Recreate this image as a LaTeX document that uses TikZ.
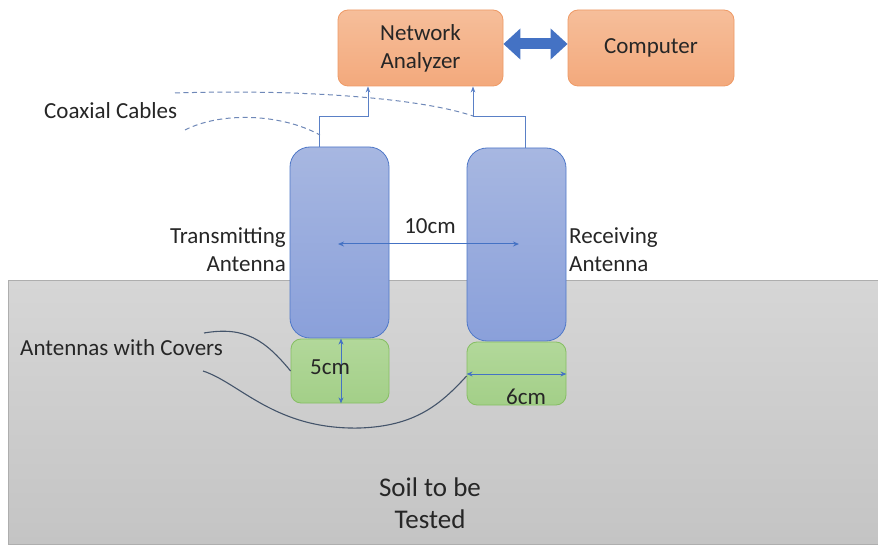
\documentclass[tikz,border=0pt]{standalone}
\usepackage{fontspec}
\setmainfont{Carlito}
\usetikzlibrary{arrows.meta}
\definecolor{txtc}{HTML}{262626}
\definecolor{ortop}{HTML}{F6BE9A}
\definecolor{orbot}{HTML}{F3A97C}
\definecolor{orline}{HTML}{EE9A66}
\definecolor{bltop}{HTML}{A7B7E1}
\definecolor{blbot}{HTML}{8AA0DA}
\definecolor{blline}{HTML}{4F78C8}
\definecolor{grtop}{HTML}{B2D89A}
\definecolor{grbot}{HTML}{A3CF88}
\definecolor{grline}{HTML}{86BE63}
\definecolor{arrc}{HTML}{4472C4}
\definecolor{cablec}{HTML}{5A80C6}
\definecolor{dashc}{HTML}{6F88B8}
\definecolor{leadc}{HTML}{44546A}
\definecolor{soiltop}{HTML}{D6D6D6}
\definecolor{soilbot}{HTML}{C4C4C4}
\definecolor{soilline}{HTML}{AEAEAE}
\begin{document}
\begin{tikzpicture}[x=1pt,y=-1pt,
  lbl/.style={font=\fontsize{23}{28}\selectfont, text=txtc, inner sep=0pt},
  orbox/.style={draw=orline, line width=0.8pt, rounded corners=10pt, top color=ortop, bottom color=orbot, align=center, font=\fontsize{23}{28}\selectfont, text=txtc},
  antbox/.style={draw=blline, line width=0.8pt, rounded corners=20pt, top color=bltop, bottom color=blbot},
  covbox/.style={draw=grline, line width=0.8pt, rounded corners=10pt, top color=grtop, bottom color=grbot},
  cable/.style={draw=cablec, line width=1pt},
  dashcable/.style={draw=dashc, line width=1pt, dash pattern=on 5pt off 3.5pt},
  lead/.style={draw=leadc, line width=1.1pt},
  dim/.style={draw=arrc, line width=1pt, {Stealth[length=6pt,width=5pt]}-{Stealth[length=6pt,width=5pt]}}
]
\useasboundingbox (0,0) rectangle (878,545);
\fill[white] (0,0) rectangle (878,545);
% soil
\draw[draw=soilline, line width=1pt, top color=soiltop, bottom color=soilbot] (8,281) rectangle (892,544);
\node[lbl, align=center, font=\fontsize{27}{32}\selectfont] (soil) at (430,503) {Soil to be\\Tested};

% boxes
\node[orbox, minimum width=165pt, minimum height=76pt] (NA) at (420.5,48) {Network\\Analyzer};
\node[orbox, minimum width=166pt, minimum height=76pt] (PC) at (651,48) {Computer};
\draw[arrc, line width=11pt, {Triangle[length=17pt,width=30pt]}-{Triangle[length=17pt,width=30pt]}] ([yshift=4pt]NA.east) -- ([yshift=4pt]PC.west);

% antennas
\node[antbox, minimum width=99pt, minimum height=191pt] (Tx) at (339.5,242.5) {};
\node[antbox, minimum width=99pt, minimum height=193pt] (Rx) at (516.5,244.5) {};
\node[covbox, minimum width=98pt, minimum height=64pt] (TxC) at (340,371) {};
\node[covbox, minimum width=99pt, minimum height=63pt] (RxC) at (516.5,373.5) {};

% cables
\draw[cable, -{Stealth[length=6pt,width=4.5pt]}] ([xshift=30pt]Tx.north west) |- (368,117) -- (NA.south -| 368,0);
\draw[cable, -{Stealth[length=6pt,width=4.5pt]}] ([xshift=59pt]Rx.north west) |- (473,117) -- (NA.south -| 473,0);
\draw[dashcable] (175,93) .. controls (300,89) and (420,98) .. (473,116);
\draw[dashcable] (185,130) .. controls (220,112) and (280,113) .. (320,135);
\node[lbl, anchor=west] (coax) at (44,111) {Coaxial Cables};

% labels
\node[lbl, align=right, anchor=east] (txl) at (286,250) {Transmitting\\Antenna};
\node[lbl, align=left, anchor=west] (rxl) at (569,250) {Receiving\\Antenna};

% 10cm
\coordinate (d1) at (338,244);
\coordinate (d2) at (519,244);
\draw[dim] (d1) -- (d2);
\node[lbl] (ten) at (430,226) {10cm};

% 5cm / 6cm
\draw[dim] (TxC.north -| 341,0) -- (TxC.south -| 341,0);
\node[lbl] (five) at (330,367) {5cm};
\draw[dim] (RxC.west |- 0,374) -- (RxC.east |- 0,374);
\node[lbl] (six) at (526,397) {6cm};

% antennas with covers
\node[lbl, anchor=west] (awc) at (20,348) {Antennas with Covers};
\draw[lead] (204,333) .. controls (245,326) and (265,340) .. (TxC.west);
\draw[lead] (203,371) .. controls (240,383) and (275,430) .. (360,428) .. controls (415,426) and (440,405) .. (RxC.west |- 0,376);
\end{tikzpicture}
\end{document}
